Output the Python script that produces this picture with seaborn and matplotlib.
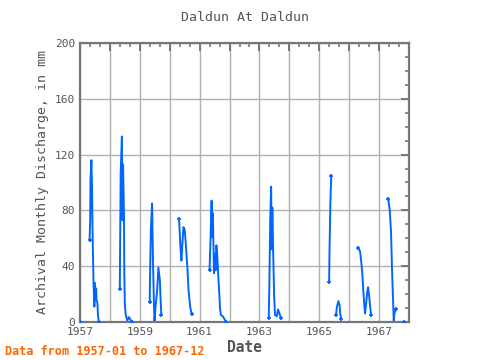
import numpy as np
import pandas as pd
import matplotlib
matplotlib.use('Agg')
import matplotlib.pyplot as plt
import matplotlib.ticker as mticker
import seaborn as sns

# decimal years and discharge (mm); NaN marks a break in the record
years = [
    1957.00, np.nan,
    1957.32, 1957.34, 1957.35, 1957.38, 1957.40, 1957.42, 1957.45, 1957.48,
    1957.50, 1957.52, 1957.54, 1957.55, 1957.58, 1957.60, 1957.63, np.nan,
    1958.33, 1958.34, 1958.36, 1958.40, 1958.42, 1958.44, 1958.47, 1958.48,
    1958.50, 1958.53, 1958.58, 1958.64, 1958.70, 1958.74, np.nan,
    1959.33, 1959.34, 1959.37, 1959.41, 1959.44, 1959.47, 1959.49, 1959.53,
    1959.58, 1959.62, 1959.67, 1959.69, 1959.72, np.nan,
    1960.31, 1960.36, 1960.39, 1960.42, 1960.46, 1960.50, 1960.54, 1960.59,
    1960.63, 1960.69, 1960.73, np.nan,
    1961.33, 1961.36, 1961.39, 1961.40, 1961.42, 1961.44, 1961.48, 1961.51,
    1961.53, 1961.56, 1961.59, 1961.62, 1961.66, 1961.68, 1961.71, 1961.78,
    1961.83, 1961.89, np.nan,
    1963.31, 1963.33, 1963.36, 1963.39, 1963.41, 1963.43, 1963.46, 1963.49,
    1963.52, 1963.58, 1963.62, 1963.67, 1963.71, np.nan,
    1965.33, 1965.34, 1965.37, 1965.40, np.nan,
    1965.56, 1965.59, 1965.64, 1965.68, 1965.70, 1965.73, np.nan,
    1966.29, 1966.36, 1966.40, 1966.44, 1966.47, 1966.50, 1966.53, 1966.57,
    1966.60, 1966.63, 1966.67, 1966.70, 1966.73, np.nan,
    1967.31, 1967.36, 1967.40, 1967.43, 1967.47, 1967.49, 1967.51, 1967.56,
    np.nan, 1967.83,
]
discharge = [
    0, np.nan,
    59, 73, 102, 116, 98, 64, 29, 11,
    28, 16, 24, 16, 14, 5, 0, np.nan,
    24, 52, 107, 133, 73, 113, 75, 36,
    12, 5, 1, 3.5, 1, 0, np.nan,
    14, 32, 67, 85, 43, 14, 0, 12,
    23, 39, 30, 18, 5, np.nan,
    74, 53, 44, 55, 68, 66, 55, 39,
    22, 10, 6, np.nan,
    37, 57, 80, 87, 61, 78, 35, 49,
    37, 55, 47, 34, 19, 10, 5, 4,
    2, 0, np.nan,
    3, 26, 73, 97, 52, 82, 49, 19,
    5, 4, 9, 6, 3, np.nan,
    29, 48, 85, 105, np.nan,
    5, 11, 15, 12, 6, 2, np.nan,
    53, 51, 44, 34, 23, 14, 6, 14,
    21, 25, 18, 11, 5, np.nan,
    88, 79, 64, 39, 14, 1, 6, 9,
    np.nan, 0,
]

df = pd.DataFrame({'year': years, 'value': discharge})
df['seg'] = df['value'].isna().cumsum()
df = df.dropna().reset_index(drop=True)
first = df.groupby('seg').head(1)
last = df.groupby('seg').tail(1)
ends = pd.concat([first, last]).drop_duplicates()

sns.set_style('white')
plt.rcParams['font.family'] = ['DejaVu Sans Mono']

fig = plt.figure(figsize=(4.8, 3.6), dpi=100)
ax = fig.add_axes([0.1667, 0.1056, 0.6854, 0.775])

blue = '#0066ff'
sns.lineplot(data=df, x='year', y='value', units='seg', estimator=None,
             sort=False, color=blue, linewidth=1.4, ax=ax)
sns.scatterplot(data=ends, x='year', y='value', marker='+', s=12,
                color=blue, linewidth=1.2, ax=ax, zorder=4)

ax.set_xlim(1957, 1968)
ax.set_ylim(0, 200)
ax.xaxis.set_major_locator(mticker.MultipleLocator(1))
ax.xaxis.set_minor_locator(mticker.MultipleLocator(1 / 3))
ax.xaxis.set_major_formatter(mticker.FuncFormatter(
    lambda v, p: f'{int(round(v))}' if int(round(v)) % 2 == 1 else ''))
ax.yaxis.set_major_locator(mticker.MultipleLocator(40))
ax.yaxis.set_minor_locator(mticker.MultipleLocator(10))

gray = '#777777'
ax.grid(True, which='major', color='#b0b0b0', linewidth=1)
ax.set_axisbelow(True)
for s in ax.spines.values():
    s.set_color(gray)
    s.set_linewidth(1.6)
ax.tick_params(which='both', direction='in', top=True, right=True,
               color=gray, labelcolor='#555555', labelsize=8)
ax.tick_params(which='major', length=6, width=1.4)
ax.tick_params(which='minor', length=3, width=1.2)

ax.set_title('Daldun At Daldun', fontsize=9.5, color='#555555', pad=16)
ax.set_xlabel('Date', fontsize=10.5, color='#555555', fontweight='bold', labelpad=2)
ax.set_ylabel('Archival Monthly Discharge, in mm', fontsize=9.5, color='#555555')
fig.text(0.01, 0.015, 'Data from 1957-01 to 1967-12', fontsize=8.5,
         color='#ff6600', fontweight='bold')

fig.savefig('out.png', dpi=100)
